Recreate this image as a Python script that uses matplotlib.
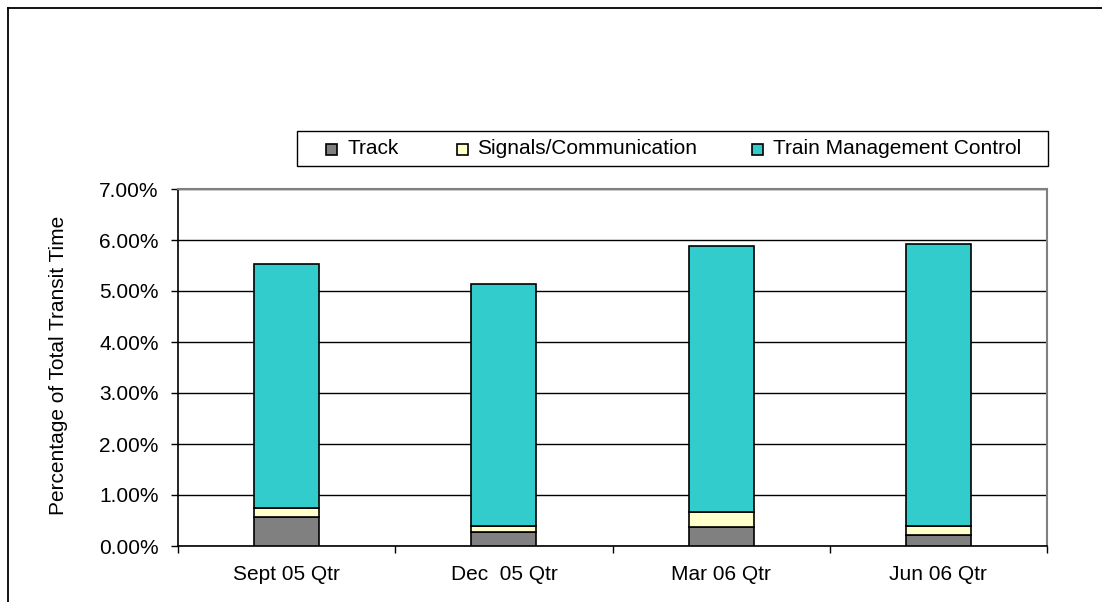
import matplotlib
matplotlib.use("Agg")
import matplotlib.pyplot as plt
from matplotlib.patches import Rectangle
from matplotlib.lines import Line2D
from matplotlib.ticker import FuncFormatter, FixedLocator

plt.rcParams['font.family'] = ['Liberation Sans', 'DejaVu Sans']

# Quarterly delay share by cause (percent of total transit time)
quarters = ["Sept 05 Qtr", "Dec  05 Qtr", "Mar 06 Qtr", "Jun 06 Qtr"]
track = [0.57, 0.27, 0.37, 0.22]
signals = [0.18, 0.13, 0.30, 0.18]
train_mgmt = [4.77, 4.74, 5.21, 5.52]
series_names = ["Track", "Signals/Communication", "Train Management Control"]
colors = ["#808080", "#FFFFCC", "#33CCCC"]
y_ticks = [0, 1, 2, 3, 4, 5, 6, 7]

W, H = 1102, 602
fig = plt.figure(figsize=(W / 100, H / 100), dpi=100)
fig.patch.set_facecolor("white")


def fx(px):
    return px / W


def fy(py):
    return 1 - py / H


ax = fig.add_axes([fx(178), fy(546), fx(1047) - fx(178), fy(189) - fy(546)])

x = list(range(len(quarters)))
bottoms = [0.0] * len(quarters)
for vals, col in zip([track, signals, train_mgmt], colors):
    ax.bar(x, vals, width=0.30, bottom=bottoms, color=col,
           edgecolor="black", linewidth=1.2, zorder=3)
    bottoms = [b + v for b, v in zip(bottoms, vals)]

ax.set_xlim(-0.5, len(quarters) - 0.5)
ax.set_ylim(0, 7)
ax.yaxis.set_major_locator(FixedLocator(y_ticks))
ax.yaxis.set_major_formatter(FuncFormatter(lambda v, p: f"{v:.2f}%"))
ax.grid(axis="y", color="black", linewidth=1.0, zorder=1)

ax.set_xticks(x)
ax.set_xticklabels(quarters)
ax.set_xticks([i - 0.5 for i in range(len(quarters) + 1)], minor=True)
ax.tick_params(axis="x", which="major", length=0, pad=14, labelsize=15)
ax.tick_params(axis="x", which="minor", length=5, width=1.0, color="black")
ax.tick_params(axis="y", length=5, width=1.0, pad=9, labelsize=15,
               color="black")

for side in ("left", "bottom"):
    ax.spines[side].set_color("black")
    ax.spines[side].set_linewidth(1.2)
for side in ("top", "right"):
    ax.spines[side].set_color("#808080")
    ax.spines[side].set_linewidth(1.5)

fig.text(fx(58), fy(365), "Percentage of Total Transit Time", rotation=90,
         ha="center", va="center", fontsize=15)

# Legend box with three entries in a row
fig.patches.append(Rectangle((fx(297), fy(166)), fx(1048) - fx(297),
                             fy(131) - fy(166), transform=fig.transFigure,
                             facecolor="white", edgecolor="black",
                             linewidth=1.0))
sq_x = [326, 457, 752]
txt_x = [347, 477, 773]
for name, col, sx, tx in zip(series_names, colors, sq_x, txt_x):
    fig.patches.append(Rectangle((fx(sx), fy(155)), fx(11), 11 / H,
                                 transform=fig.transFigure, facecolor=col,
                                 edgecolor="black", linewidth=1.2))
    fig.text(fx(tx), fy(149), name, ha="left", va="center", fontsize=15)

# Outer frame along the top and left edges
fig.lines.append(Line2D([fx(8), 1], [fy(8), fy(8)], transform=fig.transFigure,
                        color="black", linewidth=1.3))
fig.lines.append(Line2D([fx(8), fx(8)], [fy(8), 0], transform=fig.transFigure,
                        color="black", linewidth=1.3))

fig.savefig("out.png", dpi=100, facecolor="white")
